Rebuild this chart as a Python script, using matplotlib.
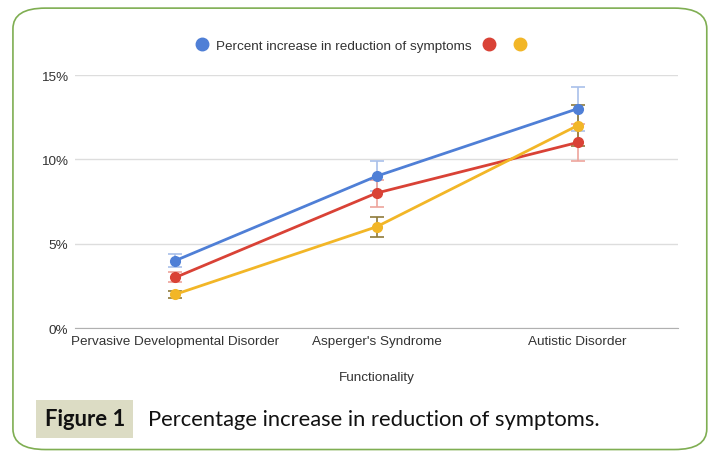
import matplotlib.pyplot as plt
from matplotlib.patches import FancyBboxPatch
from matplotlib.lines import Line2D
import matplotlib.ticker as mticker

categories = ['Pervasive Developmental Disorder', "Asperger's Syndrome", 'Autistic Disorder']
blue_vals = [4, 9, 13]
red_vals = [3, 8, 11]
yellow_vals = [2, 6, 12]
blue_err = [0.4, 0.9, 1.3]
red_err = [0.3, 0.8, 1.1]
yellow_err = [0.2, 0.6, 1.2]
legend_label = 'Percent increase in reduction of symptoms'
caption_tag = 'Figure 1'
caption_text = 'Percentage increase in reduction of symptoms.'

plt.rcParams['font.family'] = ['Liberation Sans', 'DejaVu Sans']

fig = plt.figure(figsize=(7.19, 4.56), dpi=100)
fig.patch.set_facecolor('white')

# rounded green frame
frame = FancyBboxPatch((0.018, 0.012), 0.965, 0.968, boxstyle='round,pad=0,rounding_size=0.045',
                       transform=fig.transFigure, facecolor='none', edgecolor='#7fae52', linewidth=1.2)
fig.patches.append(frame)

ax = fig.add_axes([0.1043, 0.2785, 0.8387, 0.5548])
x = [0.5, 1.5, 2.5]

series = [
    (blue_vals, blue_err, '#4f7fd6', '#a9c0ea'),
    (red_vals, red_err, '#d94236', '#eea49c'),
    (yellow_vals, yellow_err, '#f2b627', '#8f7a3a'),
]
for vals, err, col, ecol in series:
    ax.errorbar(x, vals, yerr=err, fmt='none', ecolor=ecol, elinewidth=1.2, capsize=5, capthick=1.2, zorder=2)
    ax.plot(x, vals, color=col, linewidth=2, marker='o', markersize=7, zorder=3)

ax.set_xlim(0, 3)
ax.set_ylim(0, 15)
ax.set_yticks([0, 5, 10, 15])
ax.yaxis.set_major_formatter(mticker.FuncFormatter(lambda v, p: f'{int(v)}%'))
ax.set_xticks(x)
ax.set_xticklabels(categories)
ax.grid(axis='y', color='#dddddd', linewidth=1)
ax.set_axisbelow(True)
for s in ['top', 'right', 'left']:
    ax.spines[s].set_visible(False)
ax.spines['bottom'].set_color('#b0b0b0')
ax.tick_params(axis='both', length=0, labelsize=9.7, colors='#333333')
ax.tick_params(axis='y', pad=5)
ax.tick_params(axis='x', pad=5)
ax.set_xlabel('Functionality', fontsize=9.7, color='#333333', labelpad=17)

handles = [Line2D([], [], linestyle='none', marker='o', markersize=9, color=c) for c in ['#4f7fd6', '#d94236', '#f2b627']]
fig.legend(handles, [legend_label, '', ''], loc='center', bbox_to_anchor=(0.507, 0.897), ncol=3,
           frameon=False, fontsize=9.7, handletextpad=0.5, columnspacing=0.8, handlelength=1.0,
           labelcolor='#333333')

fig.text(0.062, 0.079, caption_tag, fontsize=15.8, fontweight='bold', family=['Lato', 'DejaVu Sans'],
         va='center', ha='left', color='#111111',
         bbox=dict(boxstyle='square,pad=0.38', facecolor='#dcdcc4', edgecolor='none'))
fig.text(0.206, 0.079, caption_text, fontsize=15.8, family=['Lato', 'DejaVu Sans'],
         va='center', ha='left', color='#111111')

fig.savefig('out.png', dpi=100)
